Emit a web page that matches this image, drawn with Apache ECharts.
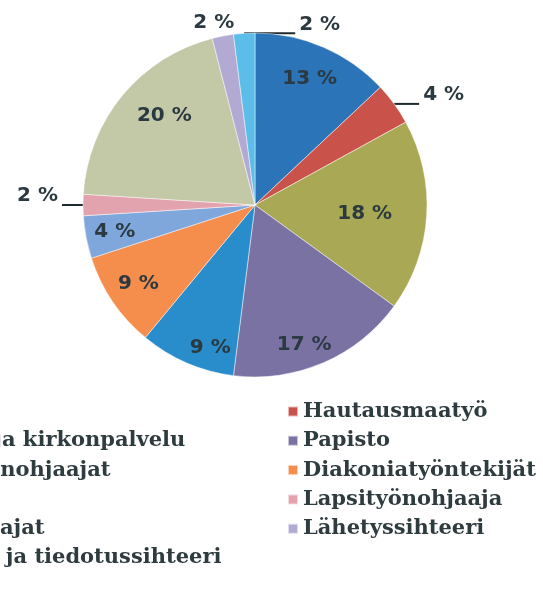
<!DOCTYPE html>
<html>
<head>
<meta charset="utf-8">
<script src="https://cdn.jsdelivr.net/npm/echarts@6/dist/echarts.min.js"></script>
<style>
  html, body { margin: 0; padding: 0; background: #fff; }
  #pieChart { width: 543px; height: 596px; }
</style>
</head>
<body>
<div id="pieChart"></div>
<script>
// henkilöstön jakauma (%)
const categories = [
  'Hallinto',
  'Hautausmaatyö',
  'Kiinteistö ja kirkonpalvelu',
  'Papisto',
  'Nuorisotyönohjaajat',
  'Diakoniatyöntekijät',
  'Kanttorit',
  'Lapsityönohjaaja',
  'Lastenohjaajat',
  'Lähetyssihteeri',
  'Kampanja- ja tiedotussihteeri'
]
const shares = [13, 4, 18, 17, 9, 9, 4, 2, 20, 2, 2]

const colors = [
  '#2c74b8', '#c9524a', '#a9a854', '#7b72a4', '#2a8dcb', '#f58d4d',
  '#7fa7db', '#e3a3ae', '#c3c8a7', '#b3aad3', '#5cbde8'
]

// kuvion mitat
const cx = 255
const cy = 205
const R = 172

// sisälabelien sijainti (osuus säteestä) ja pieni kulmasiirto
const labelFrac = [0.80, 0, 0.64, 0.86, 0.87, 0.82, 0.83, 0, 0.74, 0, 0]
const labelShift = [0, 0, 1, 4, -6, 0, 0, 0, 5, 0, 0]
// ulkolabelit: suunta ja viivan pituus
const outside = {
  1: { dir: 1, len: 25 },
  7: { dir: -1, len: 21 },
  9: { dir: 0, len: 0 },
  10: { dir: 1, len: 51 }
}

const total = shares.reduce((a, b) => a + b, 0)
let acc = 0
const mids = shares.map((v) => {
  const m = ((acc + v / 2) / total) * 360
  acc += v
  return m
})

const rad = (d) => (d * Math.PI) / 180

const chart = echarts.init(document.getElementById('pieChart'))

const legendText = {
  fontFamily: 'DejaVu Serif',
  fontWeight: 'bold',
  fontSize: 21,
  color: '#2e3b3f',
  lineHeight: 20
}

const option = {
  animation: false,
  color: colors,
  legend: [
    {
      orient: 'vertical',
      left: -150,
      top: 396,
      icon: 'rect',
      itemWidth: 10,
      itemHeight: 10,
      itemGap: 8.3,
      textStyle: legendText,
      data: categories.filter((c, i) => i % 2 === 0)
    },
    {
      orient: 'vertical',
      left: 282,
      top: 396,
      icon: 'rect',
      itemWidth: 10,
      itemHeight: 10,
      itemGap: 8.3,
      textStyle: legendText,
      data: categories.filter((c, i) => i % 2 === 1)
    }
  ],
  series: [
    {
      type: 'pie',
      center: [cx, cy],
      radius: [0, R],
      startAngle: 90,
      clockwise: true,
      avoidLabelOverlap: false,
      itemStyle: {
        borderColor: 'rgba(255,255,255,0.6)',
        borderWidth: 0.8
      },
      label: {
        position: 'inside',
        formatter: (p) => p.value + ' %',
        fontFamily: 'DejaVu Sans',
        fontWeight: 'bold',
        fontSize: 20,
        color: '#2b3940'
      },
      labelLine: { show: false },
      data: categories.map((name, i) => {
        const item = { name: name, value: shares[i] }
        if (outside[i]) {
          item.label = { position: 'outside' }
          item.labelLine = {
            show: outside[i].len > 0,
            length: 0,
            length2: outside[i].len,
            lineStyle: { color: '#1f2a2e', width: 2 }
          }
        }
        return item
      }),
      labelLayout: (p) => {
        const i = p.dataIndex
        const o = outside[i]
        if (!o) {
          const a = rad(mids[i] + labelShift[i])
          const r = labelFrac[i] * R
          return {
            x: cx + r * Math.sin(a),
            y: cy - r * Math.cos(a),
            align: 'center',
            verticalAlign: 'middle'
          }
        }
        const a = rad(mids[i])
        const ex = cx + R * Math.sin(a)
        const ey = cy - R * Math.cos(a)
        if (o.dir === 0) {
          return { x: ex - 9, y: ey - 13, align: 'center', verticalAlign: 'middle' }
        }
        const endX = ex + o.dir * o.len
        return {
          x: endX + o.dir * 4,
          y: ey + 1,
          align: o.dir > 0 ? 'left' : 'right',
          verticalAlign: 'bottom',
          labelLinePoints: [[ex, ey], [ex, ey], [endX, ey]]
        }
      }
    }
  ]
}

option && chart.setOption(option)
</script>
</body>
</html>
